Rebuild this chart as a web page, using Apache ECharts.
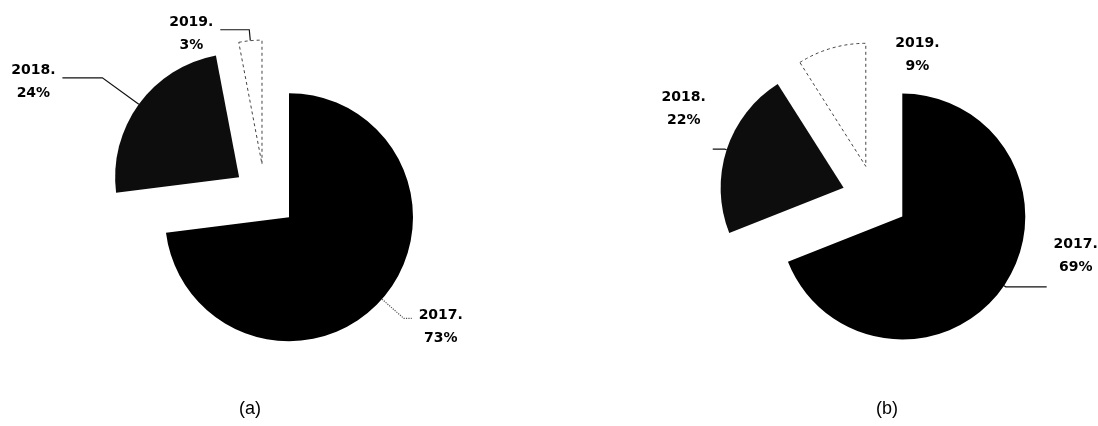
<!DOCTYPE html>
<html>
<head>
<meta charset="utf-8">
<script src="https://cdn.jsdelivr.net/npm/echarts@6/dist/echarts.min.js"></script>
<style>
html,body{margin:0;padding:0;background:#fff;}
#chart{width:1098px;height:426px;}
</style>
</head>
<body>
<div id="chart"></div>
<script>
// ---- data ----
const categories = ['2017', '2018', '2019'];
const valuesA = [73, 24, 3];
const valuesB = [69, 22, 9];
const captions = ['(a)', '(b)'];

// ---- styles ----
const sliceStyles = [
  { color: '#000000', borderWidth: 0 },
  { color: '#0d0d0d', borderWidth: 0 },
  { color: '#ffffff', borderColor: '#444444', borderWidth: 1, borderType: [3, 3] }
];
const richText = {
  t: { width: 48, align: 'center', fontFamily: 'DejaVu Sans', fontWeight: 'bold',
       fontSize: 14, lineHeight: 23, color: '#000' }
};

function buildPie(values, center, radius, offset, labelCfg, labelLayout) {
  const s = {
    type: 'pie',
    center: center,
    radius: radius,
    startAngle: 90,
    clockwise: true,
    animation: false,
    avoidLabelOverlap: false,
    selectedMode: 'multiple',
    selectedOffset: offset,
    emphasis: { disabled: true },
    data: values.map((v, j) => {
      const cfg = labelCfg[j];
      const lineShow = cfg.line !== false;
      const lineStyle = Object.assign({ color: '#111', width: 1.2 }, cfg.lineStyle || {});
      return {
        name: categories[j], value: v,
        selected: true,
        itemStyle: sliceStyles[j],
        select: { itemStyle: sliceStyles[j], labelLine: { show: lineShow, lineStyle: lineStyle } },
        label: {
          show: true, position: 'outside',
          formatter: p => `{t|${p.name}.}\n{t|${p.value}%}`,
          rich: richText,
          padding: cfg.padding || 0,
          distanceToLabelLine: 5
        },
        labelLine: {
          show: lineShow,
          length: cfg.length, length2: cfg.length2,
          smooth: false,
          lineStyle: lineStyle
        }
      };
    })
  };
  if (labelLayout) s.labelLayout = labelLayout;
  return s;
}

const radius = 124;
const pieA = buildPie(valuesA, [265, 196], radius, 32, [
  { length: 29, length2: 8, padding: [17, 0, 0, 0], lineStyle: { color: '#555', type: 'dotted' } },
  { length: 45, length2: 40, padding: [8, 0, 0, 0] },
  { length: 11, length2: 29, padding: [9, 0, 0, 0] }
]);
const pieB = buildPie(valuesB, [875, 198], 123, 33, [
  { length: 2, length2: 41, padding: [0, 0, 62, 0] },
  { length: 2, length2: 12, padding: [0, 0, 80, 0] },
  { length: 0, length2: 0, line: false }
], p => (p.dataIndex === 2 ? { dx: 115, dy: 7 } : {}));

const chart = echarts.init(document.getElementById('chart'), null, { renderer: 'canvas' });
chart.setOption({
  backgroundColor: '#ffffff',
  animation: false,
  series: [pieA, pieB],
  graphic: [
    { type: 'text', x: 250, y: 409, style: { text: captions[0], fill: '#000', font: '18px "Liberation Sans", Arial, sans-serif', align: 'center', verticalAlign: 'middle' } },
    { type: 'text', x: 887, y: 409, style: { text: captions[1], fill: '#000', font: '18px "Liberation Sans", Arial, sans-serif', align: 'center', verticalAlign: 'middle' } }
  ]
});
</script>
</body>
</html>
